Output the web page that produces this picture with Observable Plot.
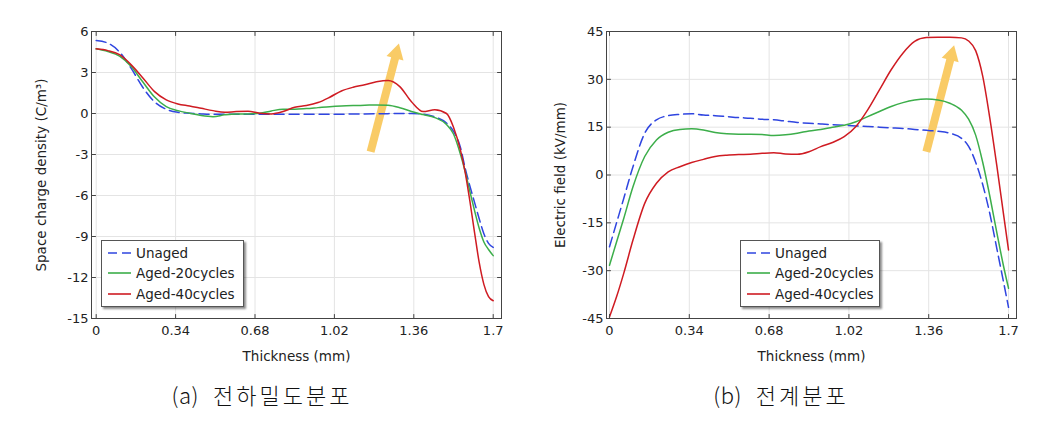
<!DOCTYPE html>
<html>
<head>
<meta charset="utf-8">
<script src="https://cdn.jsdelivr.net/npm/d3@7"></script>
<script src="https://cdn.jsdelivr.net/npm/@observablehq/plot@0.6"></script>
<style>
  html, body { margin: 0; padding: 0; background: #fff; }
  #page { position: relative; width: 1049px; height: 423px; overflow: hidden; background: #fff; font-family: "DejaVu Sans", sans-serif; }
  .panel { position: absolute; top: 0; }
  .legend { position: absolute; box-sizing: border-box; border: 1px solid #555; background: #fff;
            box-shadow: 2px 2px 2px rgba(0,0,0,0.45); font-family: "DejaVu Sans", sans-serif; font-size: 13.5px; color: #222;
            padding: 2px 0 3px 0; }
  .legend .row { height: 20.3px; display: flex; align-items: center; white-space: nowrap; }
  .legend svg { margin-left: 6px; margin-right: 5px; flex: none; }
  .caption { position: absolute; top: 380px; transform: translateX(-50%); white-space: nowrap;
             font-family: "Noto Sans CJK KR", sans-serif; font-weight: 300; font-size: 22px; color: #111; line-height: 28px; }
  .caption .tag { letter-spacing: 0.5px; margin-right: 14px; }
  .caption .word { letter-spacing: 3px; }
</style>
</head>
<body>
<div id="page">
  <div id="left" class="panel" style="left:0px"></div>
  <div id="right" class="panel" style="left:520px"></div>
  <div id="legendL" class="legend" style="left:101px; top:240px; width:143px; height:67px;"></div>
  <div id="legendR" class="legend" style="left:740px; top:240px; width:140px; height:67px;"></div>
  <div id="capL" class="caption" style="left:262px;"></div>
  <div id="capR" class="caption" style="left:781px;"></div>
</div>
<script>
// ---------- data ----------
const xTicks = [0, 0.34, 0.68, 1.02, 1.36, 1.7];
const rhoTicks = [-15, -12, -9, -6, -3, 0, 3, 6];
const fieldTicks = [-45, -30, -15, 0, 15, 30, 45];

const seriesNames = ["Unaged", "Aged-20cycles", "Aged-40cycles"];
const seriesColors = ["#2f45e0", "#3cae4a", "#cf1b22"];

const captionLeft = ["(a)", "전하밀도분포"];
const captionRight = ["(b)", "전계분포"];
const rhoLabel = "Space charge density (C/m³)";
const fieldLabel = "Electric field (kV/mm)";
const xLabel = "Thickness (mm)";

// (a) space charge density
const rhoThickness = [0, 0.05, 0.1, 0.15, 0.2, 0.25, 0.3, 0.35, 0.4, 0.45, 0.5, 0.55, 0.6, 0.65, 0.7, 0.75, 0.8, 0.85, 0.9, 0.95,
  1.0, 1.05, 1.1, 1.15, 1.2, 1.25, 1.3, 1.35, 1.4, 1.45, 1.5, 1.53, 1.56, 1.58, 1.6, 1.62, 1.64, 1.66, 1.68, 1.7];
const rhoUnaged = [5.34, 5.15, 4.5, 3.3, 1.9, 0.85, 0.31, 0.09, 0.02, -0.03, -0.06, -0.06, -0.06, -0.06, -0.06, -0.06, -0.06, -0.06, -0.06, -0.05,
  -0.05, -0.05, -0.04, -0.03, -0.02, -0.01, 0.0, 0.0, -0.05, -0.25, -0.7, -1.3, -2.5, -4.0, -5.3, -6.5, -7.7, -8.8, -9.5, -9.8];
const rhoAged20 = [4.73, 4.53, 4.2, 3.44, 2.3, 1.2, 0.5, 0.21, 0.02, -0.15, -0.23, -0.1, -0.03, -0.03, 0.02, 0.19, 0.31, 0.31, 0.36, 0.43,
  0.5, 0.55, 0.58, 0.6, 0.63, 0.6, 0.42, 0.15, -0.08, -0.3, -0.8, -1.5, -3.0, -4.25, -5.7, -7.1, -8.4, -9.4, -9.95, -10.4];
const rhoAged40 = [4.73, 4.6, 4.3, 3.56, 2.6, 1.6, 1.0, 0.7, 0.55, 0.38, 0.21, 0.09, 0.14, 0.16, 0.02, -0.03, 0.14, 0.46, 0.58, 0.8,
  1.19, 1.65, 1.92, 2.1, 2.32, 2.42, 1.97, 0.86, 0.14, 0.27, 0.0, -1.0, -2.7, -4.3, -6.4, -8.7, -10.9, -12.5, -13.4, -13.7];

// (b) electric field
const fieldThickness = [0, 0.03, 0.06, 0.1, 0.15, 0.2, 0.25, 0.3, 0.35, 0.4, 0.45, 0.5, 0.55, 0.6, 0.65, 0.7, 0.75, 0.8, 0.85, 0.9, 0.95,
  1.0, 1.05, 1.1, 1.15, 1.2, 1.25, 1.3, 1.35, 1.4, 1.45, 1.5, 1.53, 1.56, 1.59, 1.62, 1.65, 1.68, 1.7];
const fieldUnaged = [-22.5, -15, -7.5, 2.6, 13.1, 17.3, 18.6, 19.0, 19.2, 18.8, 18.6, 18.3, 18.0, 17.8, 17.5, 17.3, 16.9, 16.5, 16.2, 16.0, 15.8,
  15.6, 15.4, 15.2, 15.0, 14.8, 14.6, 14.3, 14.0, 13.7, 13.1, 11.5, 9.0, 4.0, -3.0, -12.0, -23.0, -34.0, -41.5];
const fieldAged20 = [-28.3, -21, -13.8, -3.7, 5.8, 11.0, 13.4, 14.3, 14.5, 14.1, 13.3, 12.9, 12.8, 12.8, 12.7, 12.4, 12.6, 13.1, 13.8, 14.3, 15.0,
  15.6, 16.7, 18.3, 19.9, 21.5, 22.7, 23.5, 23.8, 23.5, 22.5, 20.3, 17.5, 12.5, 4.0, -6.5, -18.0, -29.0, -35.5];
const fieldAged40 = [-44.5, -38.2, -31, -20.4, -8.9, -2.6, 1.0, 2.6, 3.9, 4.9, 5.8, 6.2, 6.4, 6.5, 6.8, 7.0, 6.6, 6.5, 7.3, 8.9, 10.2,
  12.0, 15.2, 20.4, 26.7, 33.0, 38.2, 41.9, 43.1, 43.2, 43.2, 43.0, 42.0, 39.0, 31.0, 18.0, 3.0, -13.0, -23.5];

// trend arrows (data coordinates: tail and head centre)
const rhoArrowStart = [1.175, -2.8];
const rhoArrowEnd = [1.285, 4.4];
const fieldArrowStart = [1.35, 7.3];
const fieldArrowEnd = [1.457, 37.6];

// ---------- drawing ----------
const tickShape = { draw(ctx, l) { ctx.moveTo(0, 0); ctx.lineTo(0, -l); } };
const arrowColor = "#f9cb66";

function panel({ width, xs, series, yTicks, yDomain, xDomain, yLabel, margin, yLabelOffset, arrowStart, arrowEnd }) {
  const rows = [];
  series.forEach((vals, k) => vals.forEach((v, i) => rows.push({ x: xs[i], y: v, s: seriesNames[k] })));
  const arrowData = [{ x1: arrowStart[0], y1: arrowStart[1], x2: arrowEnd[0], y2: arrowEnd[1] }];
  const tickStyle = { shape: tickShape, length: 4, anchor: "start", stroke: "#444", strokeWidth: 1 };
  const lineOpts = (name, k) => ({
    x: "x", y: "y", stroke: seriesColors[k], strokeWidth: 1.5, curve: "monotone-x",
    strokeDasharray: k === 0 ? "10,5" : null
  });
  return Plot.plot({
    width, height: 370,
    marginTop: margin[0], marginRight: margin[1], marginBottom: margin[2], marginLeft: margin[3],
    x: { domain: xDomain },
    y: { domain: yDomain },
    style: { fontFamily: "DejaVu Sans", fontSize: "13px", color: "#222", background: "transparent" },
    marks: [
      Plot.gridX(xTicks, { stroke: "#e4e4e4", strokeOpacity: 1 }),
      Plot.gridY(yTicks, { stroke: "#e4e4e4", strokeOpacity: 1 }),
      Plot.link(arrowData, { x1: "x1", y1: "y1", x2: "x2", y2: "y2", stroke: arrowColor, strokeWidth: 8, strokeLinecap: "butt" }),
      Plot.dot(arrowData, { x: "x2", y: "y2", symbol: "triangle", r: 6.5, fill: arrowColor, stroke: "none", rotate: 15 }),
      ...seriesNames.map((name, k) => Plot.line(rows.filter(r => r.s === name), lineOpts(name, k))),
      Plot.vector(xTicks, { x: d => d, frameAnchor: "bottom", rotate: 0, ...tickStyle }),
      Plot.vector(xTicks, { x: d => d, frameAnchor: "top", rotate: 180, ...tickStyle }),
      Plot.vector(yTicks, { y: d => d, frameAnchor: "left", rotate: 90, ...tickStyle }),
      Plot.vector(yTicks, { y: d => d, frameAnchor: "right", rotate: -90, ...tickStyle }),
      Plot.axisX(xTicks, { tickSize: 0, tickPadding: 7, tickFormat: d => String(d), label: null }),
      Plot.axisX({ ticks: [], tickSize: 0, label: xLabel, fontSize: 13.5,
        labelAnchor: "center", labelOffset: 42, labelArrow: false }),
      Plot.axisY(yTicks, { tickSize: 0, tickPadding: 3, tickFormat: d => String(d), label: null }),
      Plot.axisY({ ticks: [], tickSize: 0, label: yLabel, fontSize: 13.5,
        labelAnchor: "center", labelOffset: yLabelOffset, labelArrow: false }),
      Plot.frame({ stroke: "#444" })
    ]
  });
}

document.getElementById("left").appendChild(panel({
  width: 520, xs: rhoThickness, series: [rhoUnaged, rhoAged20, rhoAged40],
  yTicks: rhoTicks, yDomain: [-15, 6], xDomain: [-0.0201, 1.7355], yLabel: rhoLabel,
  margin: [31, 19, 52, 91], yLabelOffset: 55, arrowStart: rhoArrowStart, arrowEnd: rhoArrowEnd
}));
document.getElementById("right").appendChild(panel({
  width: 529, xs: fieldThickness, series: [fieldUnaged, fieldAged20, fieldAged40],
  yTicks: fieldTicks, yDomain: [-45, 45], xDomain: [-0.0128, 1.734], yLabel: fieldLabel,
  margin: [31, 33, 52, 86], yLabelOffset: 51, arrowStart: fieldArrowStart, arrowEnd: fieldArrowEnd
}));

function legend(id) {
  const el = document.getElementById(id);
  seriesNames.forEach((name, k) => {
    const row = document.createElement("div");
    row.className = "row";
    const dash = k === 0 ? ' stroke-dasharray="9,5"' : "";
    row.innerHTML = `<svg width="23" height="4"><line x1="0" y1="2" x2="23" y2="2" stroke="${seriesColors[k]}" stroke-width="1.6"${dash}/></svg><span>${name}</span>`;
    el.appendChild(row);
  });
}
legend("legendL");
legend("legendR");

function caption(id, parts) {
  const el = document.getElementById(id);
  const tag = document.createElement("span");
  tag.className = "tag";
  tag.textContent = parts[0];
  const word = document.createElement("span");
  word.className = "word";
  word.textContent = parts[1];
  el.appendChild(tag);
  el.appendChild(word);
}
caption("capL", captionLeft);
caption("capR", captionRight);
</script>
</body>
</html>
